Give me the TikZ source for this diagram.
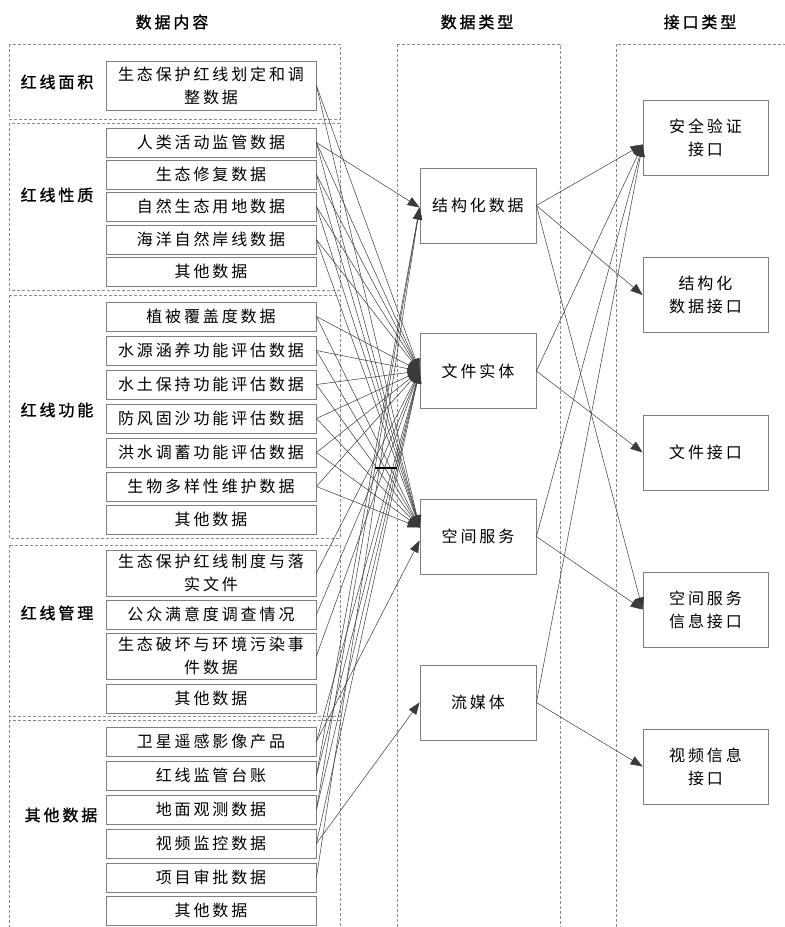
\documentclass[tikz,border=0pt]{standalone}
\usepackage{fontspec}
\setmainfont{Noto Sans CJK SC}
\newfontfamily\cjkreg{Noto Sans CJK SC}[LetterSpace=18]
\newfontfamily\cjkbf{Noto Sans CJK SC}[LetterSpace=18,FakeBold=1.2]
\usetikzlibrary{arrows.meta}
\newcommand\myitemfont{\cjkreg\fontsize{16}{23}\selectfont}
\newcommand\mybffont{\cjkbf\fontsize{16}{23}\selectfont}
\definecolor{boxgray}{HTML}{7F7F7F}
\definecolor{dashgray}{HTML}{8C8C8C}
\definecolor{linegray}{HTML}{3A3A3A}
\tikzset{
  grp/.style={draw=dashgray, line width=0.7pt, dash pattern=on 3pt off 2pt},
  item/.style={draw=boxgray, line width=0.8pt, minimum width=210pt, minimum height=29pt, inner sep=0pt, align=center, font=\myitemfont},
  mid/.style={draw=boxgray, line width=0.8pt, minimum width=116pt, minimum height=75pt, inner sep=0pt, align=center, font=\myitemfont},
  iface/.style={draw=boxgray, line width=0.8pt, minimum width=125pt, minimum height=75pt, inner sep=0pt, align=center, font=\myitemfont},
  grplabel/.style={font=\mybffont, inner sep=0pt},
  coltitle/.style={font=\mybffont, inner sep=0pt},
  conn/.style={draw=linegray, line width=0.5pt, -{Triangle[length=12pt,width=9pt]}},
}
\begin{document}
\begin{tikzpicture}[x=1pt,y=-1pt]
\useasboundingbox (0,0) rectangle (785,927);
\fill[white] (0,0) rectangle (785,927);
\begin{scope}
\clip (0,0) rectangle (785,927);
\draw[grp] (9,44) rectangle (340,119);
\draw[grp] (9,123) rectangle (340,290);
\draw[grp] (9,295) rectangle (340,538);
\draw[grp] (9,545) rectangle (340,716);
\draw[grp] (9,720) rectangle (340,945);
\draw[grp] (397,44) rectangle (560,945);
\draw[grp] (616,44) rectangle (805,945);
\end{scope}

% titles
\node[coltitle] (t1) at (172,22) {数据内容};
\node[coltitle] (t2) at (477,22) {数据类型};
\node[coltitle] (t3) at (700,22) {接口类型};

% group labels
\node[grplabel] (g1) at (57,82) {红线面积};
\node[grplabel] (g2) at (57,195) {红线性质};
\node[grplabel] (g3) at (57,410) {红线功能};
\node[grplabel] (g4) at (57,613) {红线管理};
\node[grplabel] (g5) at (61,815) {其他数据};

% items
\node[item, minimum height=49pt] (A1) at (211,85.5) {生态保护红线划定和调\\整数据};
\node[item] (B1) at (211,142.5) {人类活动监管数据};
\node[item] (B2) at (211,174.5) {生态修复数据};
\node[item] (B3) at (211,206.5) {自然生态用地数据};
\node[item] (B4) at (211,239.5) {海洋自然岸线数据};
\node[item] (B5) at (211,271.5) {其他数据};
\node[item] (C1) at (211,316.5) {植被覆盖度数据};
\node[item] (C2) at (211,350.5) {水源涵养功能评估数据};
\node[item] (C3) at (211,384.5) {水土保持功能评估数据};
\node[item] (C4) at (211,418.5) {防风固沙功能评估数据};
\node[item] (C5) at (211,452.5) {洪水调蓄功能评估数据};
\node[item] (C6) at (211,486.5) {生物多样性维护数据};
\node[item] (C7) at (211,519.5) {其他数据};
\node[item, minimum height=46pt] (D1) at (211,573) {生态保护红线制度与落\\实文件};
\node[item] (D2) at (211,614.5) {公众满意度调查情况};
\node[item, minimum height=46pt] (D3) at (211,656) {生态破坏与环境污染事\\件数据};
\node[item] (D4) at (211,698.5) {其他数据};
\node[item] (E1) at (211,741.5) {卫星遥感影像产品};
\node[item] (E2) at (211,775.5) {红线监管台账};
\node[item] (E3) at (211,809.5) {地面观测数据};
\node[item] (E4) at (211,843.5) {视频监控数据};
\node[item] (E5) at (211,877.5) {项目审批数据};
\node[item] (E6) at (211,910.5) {其他数据};

% data types
\node[mid] (jg) at (478,205.5) {结构化数据};
\node[mid] (wj) at (478,371) {文件实体};
\node[mid] (kj) at (478,536.5) {空间服务};
\node[mid] (lm) at (478,702.5) {流媒体};

% interfaces
\node[iface] (aq) at (705.5,137.5) {安全验证\\接口};
\node[iface] (jk) at (705.5,295) {结构化\\数据接口};
\node[iface] (wk) at (705.5,452.5) {文件接口};
\node[iface] (kk) at (705.5,609.5) {空间服务\\信息接口};
\node[iface] (sk) at (705.5,766.5) {视频信息\\接口};

% left -> middle
\coordinate (jgin) at ([yshift=-2pt]jg.west);
\coordinate (kjtop) at ([yshift=9pt]kj.west);
\coordinate (kjlow) at ([yshift=-4pt]kj.west);
\draw[conn] (B1.east) -- (jgin);
\foreach \s in {A1,B1,B2,B3,B4,C1,C2,C3,C4,C5,C6,D1,D2,D3,E1,E2,E3,E4}
  \draw[conn] (\s.east) -- (wj.west);
\foreach \s in {A1,B1,B2,B3,B4,C1,C2,C3,C4,C5,C6}
  \draw[conn] (\s.east) -- (kjtop);
\draw[conn] (E1.east) -- (kjlow);
\foreach \s in {E2,E3,E5}
  \draw[conn] (\s.east) -- (jgin);
\draw[conn] (E4.east) -- (lm.west);

% stray bar
\coordinate (barL) at (375,468);
\coordinate (barR) at (397,468);
\draw[line width=1.3pt, black] (barL) -- (barR);

% middle -> right
\coordinate (aqin) at ([yshift=-7pt]aq.west);
\draw[conn] (jg.east) -- (aqin);
\draw[conn] (jg.east) -- (jk.west);
\draw[conn] (jg.east) -- (kk.west);
\draw[conn] (wj.east) -- (aqin);
\draw[conn] (wj.east) -- (wk.west);
\draw[conn] (kj.east) -- (aqin);
\draw[conn] (kj.east) -- (kk.west);
\draw[conn] (lm.east) -- (aqin);
\draw[conn] (lm.east) -- (sk.west);
\end{tikzpicture}
\end{document}
